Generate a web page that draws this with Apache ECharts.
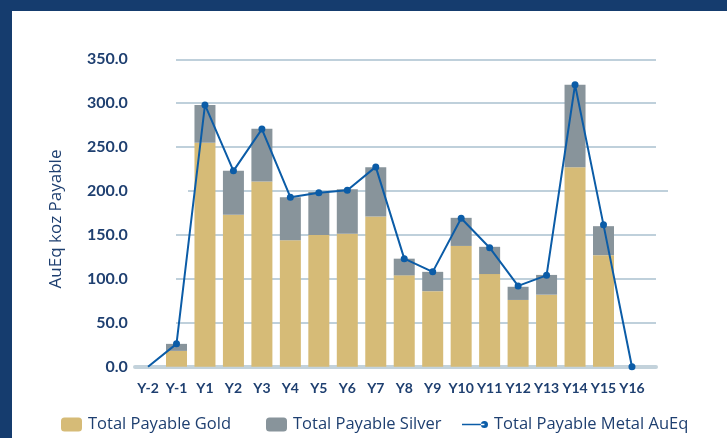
<!DOCTYPE html>
<html>
<head>
<meta charset="utf-8">
<script src="https://cdn.jsdelivr.net/npm/echarts@6/dist/echarts.min.js"></script>
<style>
html,body{margin:0;padding:0;background:#fff;}
#c{width:727px;height:438px;}
</style>
</head>
<body>
<div id="c"></div>
<script>
const categories = ['Y-2','Y-1','Y1','Y2','Y3','Y4','Y5','Y6','Y7','Y8','Y9','Y10','Y11','Y12','Y13','Y14','Y15','Y16'];
const goldValues = [null, 18, 255, 173, 211, 144, 150, 151.5, 171, 104, 86, 137.5, 105.5, 76, 82, 227, 127, null];
const silverValues = [null, 8, 43, 50, 60, 49, 49, 50.5, 56, 19, 22, 32, 31, 15, 22.5, 94, 33, null];
const auEqValues = [0, 26, 298, 223, 270.5, 193, 198, 201, 227.5, 123, 108, 169, 135.5, 92, 104, 321, 161.5, 0];
const yTicks = [0, 50, 100, 150, 200, 250, 300, 350];

const navy = '#153c6e';
const textColor = '#1e3f70';
const gridColor = '#bfd0db';
const goldColor = '#d6bb77';
const silverColor = '#88949b';
const lineColor = '#0b5ca7';
const FONT = 'Lato';
const FONT2 = 'Open Sans';

const chart = echarts.init(document.getElementById('c'), null, {renderer: 'canvas'});
const gTop = 59.3, gBottom = 71.3;

const lineData = auEqValues.map((v, i) => i === 0 ? {value: v, symbol: 'none'} : v);

const legendText = {color: textColor, fontFamily: FONT2, fontSize: 16.5, padding: [0, 0, 0, 1]};

const option = {
  animation: false,
  backgroundColor: '#ffffff',
  graphic: [
    {type: 'rect', left: 0, top: 0, shape: {width: 727, height: 11}, style: {fill: navy}, z: 10},
    {type: 'rect', left: 0, top: 0, shape: {width: 12, height: 438}, style: {fill: navy}, z: 10}
  ],
  grid: [
    {left: 133.8, right: 727 - 646.2, top: gTop, bottom: gBottom},
    {left: 176, right: 71, top: gTop, bottom: gBottom},
    {left: 188, right: 59, top: gTop, bottom: gBottom},
    {left: 135, right: 71, top: gTop, bottom: gBottom}
  ],
  xAxis: [
    {
      gridIndex: 0, type: 'category', data: categories,
      axisLine: {show: false}, axisTick: {show: false},
      axisLabel: {interval: 0, color: textColor, fontFamily: FONT, fontWeight: 'bold', fontSize: 14, margin: 15}
    },
    {gridIndex: 1, type: 'value', show: false, min: 0, max: 1},
    {gridIndex: 2, type: 'value', show: false, min: 0, max: 1},
    {
      gridIndex: 3, type: 'value', min: 0, max: 1,
      axisLine: {show: true, lineStyle: {color: '#c3d2db', width: 4}},
      axisTick: {show: false}, axisLabel: {show: false}, splitLine: {show: false}
    }
  ],
  yAxis: [
    {
      gridIndex: 0, type: 'value', min: yTicks[0], max: yTicks[yTicks.length - 1], interval: 50,
      name: 'AuEq koz Payable', nameLocation: 'middle', nameGap: 69,
      nameTextStyle: {color: textColor, fontFamily: FONT2, fontSize: 17, padding: [0, 12, 0, 0]},
      axisLine: {show: false}, axisTick: {show: false},
      axisLabel: {color: textColor, fontFamily: FONT, fontWeight: 'bold', fontSize: 16, margin: 6,
        formatter: v => v.toFixed(1)},
      splitLine: {show: false}
    },
    {
      gridIndex: 1, type: 'value', min: 0, max: 350, interval: 50,
      axisLine: {show: false}, axisTick: {show: false}, axisLabel: {show: false},
      splitLine: {show: true, lineStyle: {width: 2, color: ['rgba(0,0,0,0)', gridColor, gridColor, gridColor, 'rgba(0,0,0,0)', gridColor, gridColor, gridColor]}}
    },
    {
      gridIndex: 2, type: 'value', min: 0, max: 350, interval: 200,
      axisLine: {show: false}, axisTick: {show: false}, axisLabel: {show: false},
      splitLine: {show: true, lineStyle: {width: 2, color: ['rgba(0,0,0,0)', gridColor, 'rgba(0,0,0,0)']}}
    },
    {gridIndex: 3, type: 'value', show: false, min: 0, max: 350}
  ],
  legend: [
    {
      data: ['Total Payable Gold'], left: 61, top: 416, padding: 0, itemWidth: 21, itemHeight: 14, itemGap: 0,
      textStyle: legendText
    },
    {
      data: ['Total Payable Silver'], left: 266, top: 416, padding: 0, itemWidth: 21, itemHeight: 14, itemGap: 0,
      textStyle: legendText
    },
    {
      data: [{name: 'Total Payable Metal AuEq',
        icon: 'path://M0,3.2L22,3.2L22,4.8L0,4.8Z M18.5,4 A3.5,3.5 0 1,0 25.5,4 A3.5,3.5 0 1,0 18.5,4 Z'}],
      left: 462, top: 416, padding: 0, itemWidth: 26, itemHeight: 8, itemGap: 0,
      textStyle: legendText
    }
  ],
  series: [
    {
      name: 'Total Payable Gold', type: 'bar', stack: 'metal', xAxisIndex: 0, yAxisIndex: 0,
      data: goldValues, barWidth: 21, itemStyle: {color: goldColor}
    },
    {
      name: 'Total Payable Silver', type: 'bar', stack: 'metal', xAxisIndex: 0, yAxisIndex: 0,
      data: silverValues, barWidth: 21, itemStyle: {color: silverColor}
    },
    {
      name: 'Total Payable Metal AuEq', type: 'line', xAxisIndex: 0, yAxisIndex: 0, z: 5,
      data: lineData, symbol: 'circle', symbolSize: 7, showSymbol: true,
      lineStyle: {color: lineColor, width: 2}, itemStyle: {color: lineColor}
    }
  ]
};
chart.setOption(option);
</script>
</body>
</html>
